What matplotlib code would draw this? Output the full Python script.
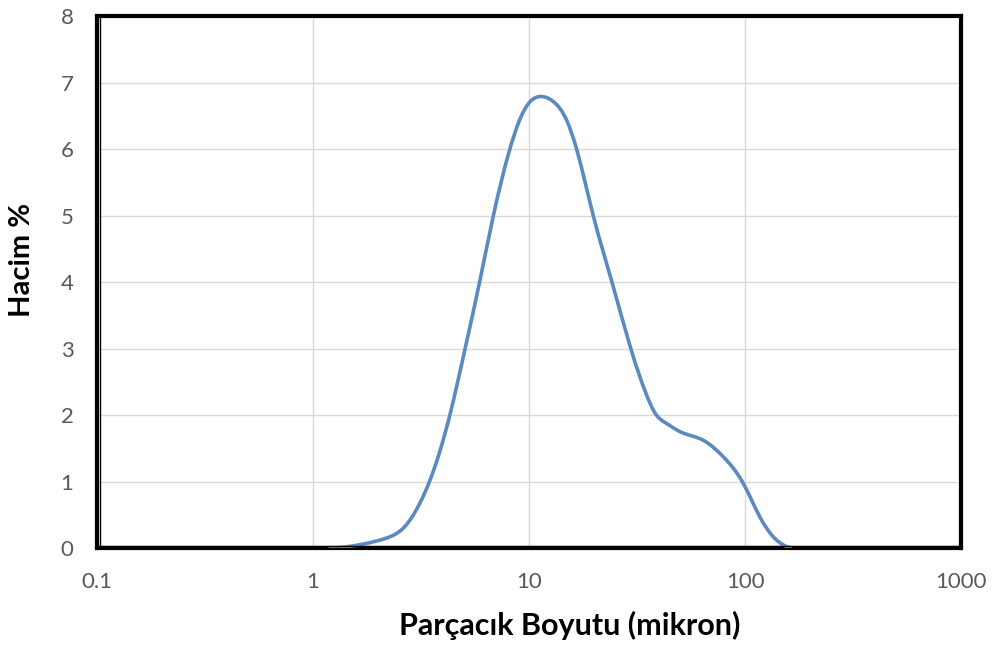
import numpy as np
import matplotlib
matplotlib.use("Agg")
import matplotlib.pyplot as plt
from matplotlib.path import Path
from matplotlib.patches import PathPatch
from matplotlib.ticker import FixedLocator, FixedFormatter, NullLocator

# particle size distribution (size in micron, volume %)
boyut = [1.2, 1.71, 2.19, 2.62, 3.13, 3.48, 4.3, 5.06, 5.93, 6.84, 8.02,
         9.08, 10.1, 11.4, 13.0, 14.9, 16.6, 19.9, 24.2, 29.4, 36.3, 38.3,
         43.0, 50.0, 64.1, 79.4, 98.2, 117.0, 135.0, 156.0, 162.0]
hacim = [0.0, 0.06, 0.15, 0.30, 0.68, 1.02, 2.0, 3.0, 4.03, 5.0, 5.92,
         6.45, 6.71, 6.79, 6.71, 6.44, 6.0, 4.98, 4.0, 3.03, 2.18, 2.03,
         1.88, 1.75, 1.62, 1.37, 0.97, 0.47, 0.17, 0.02, 0.0]

xticks = [0.1, 1, 10, 100, 1000]
xtick_labels = ["0.1", "1", "10", "100", "1000"]
yticks = [0, 1, 2, 3, 4, 5, 6, 7, 8]


def spline_slopes(x, y):
    # cubic spline slopes: flat start, natural end
    n = len(x)
    h = np.diff(x)
    d = np.diff(y) / h
    A = np.zeros((n, n))
    b = np.zeros(n)
    A[0, 0] = 1.0
    for k in range(1, n - 1):
        A[k, k - 1] = 1 / h[k - 1]
        A[k, k] = 2 * (1 / h[k - 1] + 1 / h[k])
        A[k, k + 1] = 1 / h[k]
        b[k] = 3 * (d[k - 1] / h[k - 1] + d[k] / h[k])
    A[-1, -2] = 1.0
    A[-1, -1] = 2.0
    b[-1] = 3 * d[-1]
    return np.linalg.solve(A, b)


def smooth_path(xs, ys):
    # smoothed line as cubic bezier segments in log-x space
    lx = np.log10(xs)
    y = np.asarray(ys, dtype=float)
    m = spline_slopes(lx, y)
    verts = [(xs[0], y[0])]
    codes = [Path.MOVETO]
    for i in range(len(lx) - 1):
        h = lx[i + 1] - lx[i]
        c1 = (10 ** (lx[i] + h / 3), y[i] + m[i] * h / 3)
        c2 = (10 ** (lx[i + 1] - h / 3), y[i + 1] - m[i + 1] * h / 3)
        verts += [c1, c2, (xs[i + 1], y[i + 1])]
        codes += [Path.CURVE4] * 3
    return Path(verts, codes)


plt.rcParams['font.family'] = ['Lato', 'DejaVu Sans']

fig = plt.figure(figsize=(9.92, 6.49), dpi=100)
ax = fig.add_axes([0.0978, 0.1556, 0.8710, 0.8197])

ax.set_xscale('log')
ax.set_xlim(0.1, 1000)
ax.set_ylim(0, 8)

curve = PathPatch(smooth_path(boyut, hacim), facecolor='none', edgecolor='#5a8ac0',
                  linewidth=2.6, capstyle='round', joinstyle='round', zorder=3)
ax.add_patch(curve)

ax.xaxis.set_major_locator(FixedLocator(xticks))
ax.xaxis.set_major_formatter(FixedFormatter(xtick_labels))
ax.xaxis.set_minor_locator(NullLocator())
ax.set_yticks(yticks)

ax.grid(True, color='#d9d9d9', linewidth=1.0, zorder=0)
ax.tick_params(axis='both', length=0, labelsize=16, labelcolor='#595959')
ax.tick_params(axis='x', pad=17)
ax.tick_params(axis='y', pad=17)

for s in ax.spines.values():
    s.set_color('black')
    s.set_linewidth(3)
# inner line of the double frame on left and bottom
ax.axvline(0.1035, color='black', linewidth=1.0, zorder=4)
ax.axhline(0.035, color='black', linewidth=1.0, zorder=4)

ax.set_xlabel('Parçacık Boyutu (mikron)', fontsize=22, fontweight='bold')
ax.set_ylabel('Hacim %', fontsize=21, fontweight='bold')
ax.xaxis.set_label_coords(0.547, -0.118)
ax.yaxis.set_label_coords(-0.072, 0.541)

fig.savefig('out.png', dpi=100)
